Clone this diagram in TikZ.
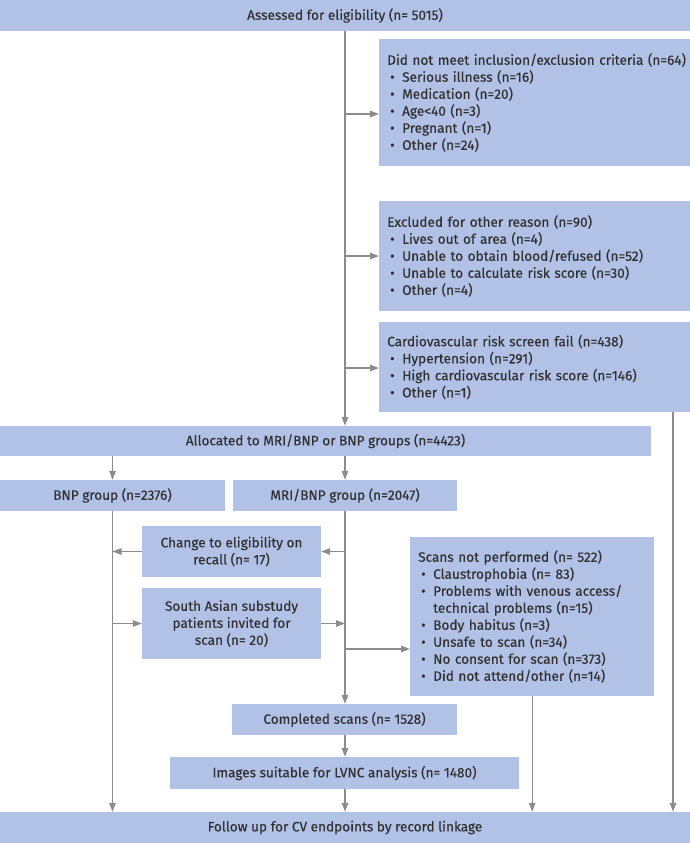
\documentclass[tikz,border=0pt]{standalone}
\usepackage{fontspec}
\setmainfont{Fira Sans}[FakeBold=0.25]
\usetikzlibrary{arrows.meta}
\definecolor{boxblue}{RGB}{177,194,230}
\definecolor{linegray}{RGB}{140,140,140}
\definecolor{textgray}{RGB}{48,48,48}
% one bullet line with hanging indent
\newcommand{\itm}[1]{\par\noindent\hangindent=15pt\hangafter=1%
  \hbox to 15pt{\hskip3pt\textbullet\hfil}#1}

\begin{document}
\begin{tikzpicture}[>=Latex,x=1pt,y=-1pt,
    box/.style={fill=boxblue,text=textgray,inner sep=0pt,align=center,
      font=\fontsize{13.6}{17}\selectfont},
    listbox/.style={box,align=left,inner xsep=8pt,anchor=west},
    arr/.style={draw=linegray,line width=1.3pt,-{Triangle[length=9pt,width=6.5pt]}},
    line/.style={draw=linegray,line width=1.3pt}]
  % Configurable parameters
  \def\mainx{345}
  \def\cvx{673}
  %
  \useasboundingbox (0,0) rectangle (690,843);
  %
  % Main column
  \node[box,minimum width=690pt,minimum height=31pt] (assess) at (345,15.5)
    {Assessed for eligibility (n= 5015)};
  \node[box,minimum width=651pt,minimum height=30pt] (alloc) at (325.5,441)
    {Allocated to MRI/BNP or BNP groups (n=4423)};
  \node[box,minimum width=690pt,minimum height=31pt] (follow) at (345,827.5)
    {Follow up for CV endpoints by record linkage};
  %
  % Exclusions (boxes run off the right edge)
  \node[listbox,minimum width=311pt,text width=300pt,minimum height=127pt] (excl1) at (379,102.5)
    {Did not meet inclusion/exclusion criteria (n=64)
     \itm{Serious illness (n=16)}
     \itm{Medication (n=20)}
     \itm{Age<40 (n=3)}
     \itm{Pregnant (n=1)}
     \itm{Other (n=24)}};
  \node[listbox,minimum width=311pt,text width=300pt,minimum height=110pt] (excl2) at (379,256)
    {Excluded for other reason (n=90)
     \itm{Lives out of area (n=4)}
     \itm{Unable to obtain blood/refused (n=52)}
     \itm{Unable to calculate risk score (n=30)}
     \itm{Other (n=4)}};
  \node[listbox,minimum width=311pt,text width=300pt,minimum height=90pt] (excl3) at (379,367)
    {Cardiovascular risk screen fail (n=438)
     \itm{Hypertension (n=291)}
     \itm{High cardiovascular risk score (n=146)}
     \itm{Other (n=1)}};
  %
  % Groups
  \node[box,minimum width=225pt,minimum height=31pt] (bnp) at (112.5,495.5)
    {BNP group (n=2376)};
  \node[box,minimum width=224pt,minimum height=31pt] (mri) at (345,495.5)
    {MRI/BNP group (n=2047)};
  \node[box,minimum width=179pt,minimum height=51pt] (change) at (231.5,551.5)
    {Change to eligibility on\\recall (n= 17)};
  \node[box,minimum width=179pt,minimum height=71pt] (asian) at (231.5,623.5)
    {South Asian substudy\\patients invited for\\scan (n= 20)};
  \node[listbox,minimum width=244pt,text width=228pt,minimum height=159pt] (noscan) at (410,616.5)
    {Scans not performed (n= 522)
     \itm{Claustrophobia (n= 83)}
     \itm{Problems with venous access/\newline technical problems (n=15)}
     \itm{Body habitus (n=3)}
     \itm{Unsafe to scan (n=34)}
     \itm{No consent for scan (n=373)}
     \itm{Did not attend/other (n=14)}};
  \node[box,minimum width=225pt,minimum height=31pt] (done) at (344.5,719.5)
    {Completed scans (n= 1528)};
  \node[box,minimum width=349pt,minimum height=32pt] (images) at (344.5,773)
    {Images suitable for LVNC analysis (n= 1480)};
  %
  % Branch points
  \coordinate (b1) at (\mainx,114);
  \coordinate (b2) at (\mainx,256);
  \coordinate (b3) at (\mainx,368);
  \coordinate (cv) at (\cvx,0);
  \coordinate (b4) at (\mainx,649);
  %
  % Connectors
  \draw[arr] (assess.south -| b1) -- (alloc.north -| b1);
  \draw[arr] (b1) -- (b1 -| excl1.west);
  \draw[arr] (b2) -- (b2 -| excl2.west);
  \draw[arr] (b3) -- (b3 -| excl3.west);
  \draw[arr] (excl3.south -| cv) -- (follow.north -| cv);
  \draw[arr] (alloc.south -| bnp.north) -- (bnp.north);
  \draw[arr] (alloc.south -| mri.north) -- (mri.north);
  \draw[arr] (bnp.south) -- (follow.north -| bnp.south);
  \draw[arr] (mri.south) -- (done.north -| mri.south);
  \draw[arr] (mri.south |- change.east) -- (change.east);
  \draw[arr] (change.west) -- (change.west -| bnp.south);
  \draw[arr] (bnp.south |- asian.west) -- (asian.west);
  \draw[arr] (asian.east) -- (asian.east -| mri.south);
  \draw[arr] (b4) -- (b4 -| noscan.west);
  \draw[arr] (noscan.south) -- (follow.north -| noscan.south);
  \draw[arr] (done.south -| mri.south) -- (images.north -| mri.south);
  \draw[arr] (images.south -| mri.south) -- (follow.north -| mri.south);
  %
\end{tikzpicture}
\end{document}
